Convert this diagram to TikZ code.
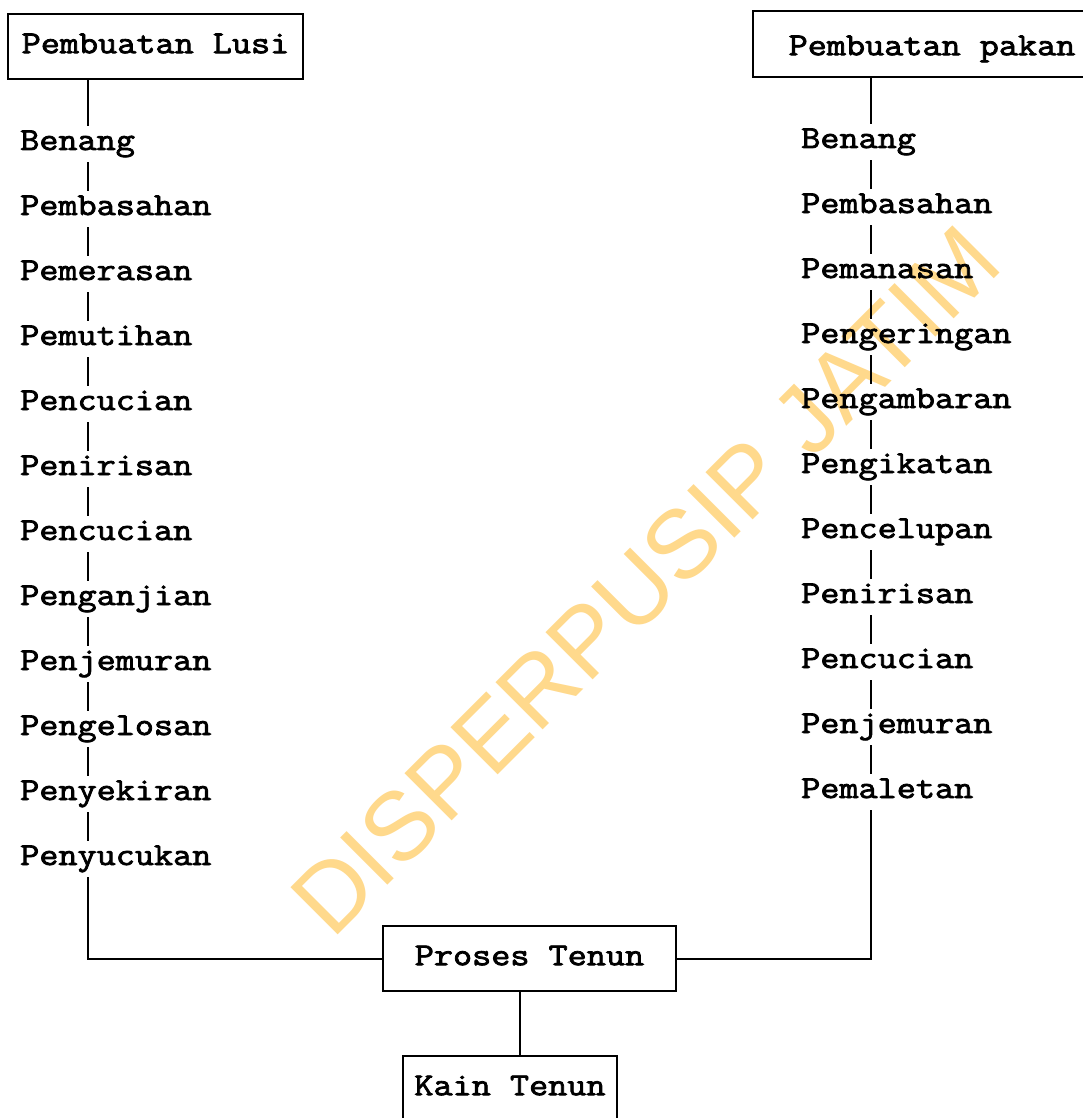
\documentclass[tikz,border=0pt]{standalone}
\usepackage{fontspec}
\newfontfamily\tw{Latin Modern Mono}[FakeStretch=1.16,FakeBold=2.5]
\newfontfamily\wmfont{Liberation Sans}
\definecolor{wmcol}{RGB}{255,217,140}
\begin{document}
\begin{tikzpicture}[x=1pt,y=-1pt,
  box/.style={draw,line width=2.4pt,rectangle,align=center,inner xsep=0pt,
    inner ysep=20pt,text height=19pt,text depth=6pt,
    font=\tw\fontsize{32}{38}\selectfont},
  lbl/.style={anchor=base west,inner xsep=0pt,inner ysep=5pt,
    text height=19pt,text depth=7pt,font=\tw\fontsize{32}{38}\selectfont},
  conn/.style={line width=2.2pt},
  wm/.style={text=wmcol,font=\wmfont\fontsize{97}{100}\selectfont,
    anchor=base west,inner sep=0pt,rotate=45}]
\useasboundingbox (0,0) rectangle (1082,1118);
\fill[white] (0,0) rectangle (1082,1118);
% watermark
\node[wm] (wmark) at (332,941) {DISPERPUSIP JATIM};
% guide coordinates
\coordinate (lx) at (88,0);
\coordinate (rx) at (871,0);
\coordinate (kx) at (520,0);
% boxes
\node[box,anchor=north,minimum width=295pt] (lusi) at (155.5,13) {Pembuatan Lusi};
\node[box,anchor=north,minimum width=358pt,text height=24pt,text depth=2pt] (pakan) at (932,10) {Pembuatan pakan};
\node[box,anchor=north,minimum width=293pt] (proses) at (529.5,925) {Proses Tenun};
\node[box,anchor=north,minimum width=214pt,text depth=50pt] (kain) at (510,1055) {Kain Tenun};
% left labels
\foreach \t [count=\i from 1] in {Benang,Pembasahan,Pemerasan,Pemutihan,Pencucian,Penirisan,Pencucian,Penganjian,Penjemuran,Pengelosan,Penyekiran,Penyucukan}
  \node[lbl] (L\i) at (20,{150+65*(\i-1)}) {\t};
% right labels
\foreach \t [count=\i from 1] in {Benang,Pembasahan,Pemanasan,Pengeringan,Pengambaran,Pengikatan,Pencelupan,Penirisan,Pencucian,Penjemuran,Pemaletan}
  \node[lbl] (R\i) at (801,{148+65*(\i-1)}) {\t};
% left chain
\draw[conn] (lusi.south -| lx) -- (L1.north -| lx);
\foreach \i [count=\j from 2] in {1,...,11}
  \draw[conn] (L\i.south -| lx) -- (L\j.north -| lx);
\draw[conn] (L12.south -| lx) |- (proses.west);
% right chain
\draw[conn] (pakan.south -| rx) -- (R1.north -| rx);
\foreach \i [count=\j from 2] in {1,...,10}
  \draw[conn] (R\i.south -| rx) -- (R\j.north -| rx);
\draw[conn] (R11.south -| rx) |- (proses.east);
% bottom
\draw[conn] (proses.south -| kx) -- (kain.north -| kx);
\end{tikzpicture}
\end{document}
